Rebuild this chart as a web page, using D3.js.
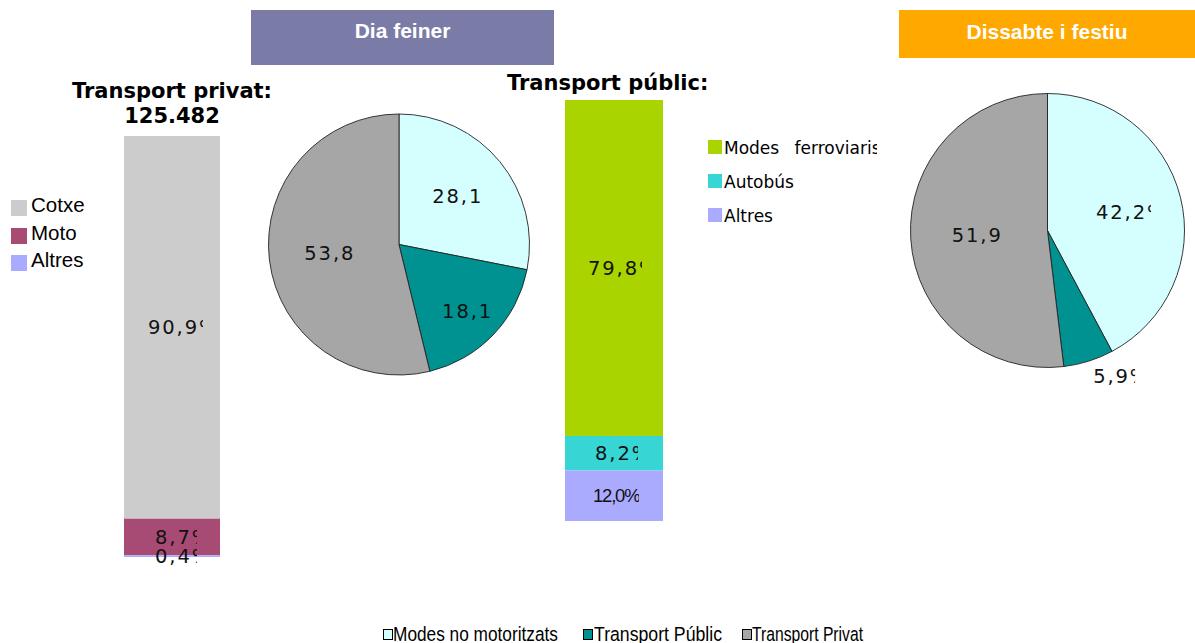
<!DOCTYPE html>
<html><head><meta charset="utf-8">
<script src="https://cdn.jsdelivr.net/npm/d3@7"></script>
<style>body{margin:0;background:#fff;overflow:hidden}svg{display:block}</style>
</head><body>
<script>
// ---------------- data ----------------
const panelTitles = ["Dia feiner", "Dissabte i festiu"];
const privTitle = ["Transport privat:", "125.482"];
const pubTitle = "Transport públic:";

const privCategories = ["Cotxe", "Moto", "Altres"];
const privValues = [90.9, 8.7, 0.4];
const privLabels = ["90,9%", "8,7%", "0,4%"];

const pubCategories = ["Modes ferroviaris", "Autobús", "Altres"];
const pubValues = [79.8, 8.2, 12.0];
const pubLabels = ["79,8%", "8,2%", "12,0%"];

const modeCategories = ["Modes no motoritzats", "Transport Públic", "Transport Privat"];
const weekdayValues = [28.1, 18.1, 53.8];
const weekdayLabels = ["28,1%", "18,1%", "53,8%"];
const weekendValues = [42.2, 5.9, 51.9];
const weekendLabels = ["42,2%", "5,9%", "51,9%"];

// ---------------- styles ----------------
const privColors = ["#cccccc", "#a84b74", "#aaaaff"];
const pubColors = ["#aad400", "#38d5d5", "#aaaaff"];
const modeColors = ["#d5ffff", "#009191", "#a6a6a6"];

const W = 1195, H = 643;
const svg = d3.select("body").append("svg").attr("width", W).attr("height", H);
const defs = svg.append("defs");
let clipId = 0;

const labelFont = "'DejaVu Sans', Verdana, sans-serif";

function clippedText(x, y, text, clipW, opts = {}) {
  const id = "clip" + (clipId++);
  defs.append("clipPath").attr("id", id)
    .append("rect").attr("x", x).attr("y", y - 20).attr("width", clipW).attr("height", 40);
  svg.append("text")
    .attr("x", x).attr("y", y).attr("dy", "0.36em")
    .attr("clip-path", `url(#${id})`)
    .style("font-family", opts.font || labelFont)
    .style("font-size", (opts.size || 19.5) + "px")
    .style("letter-spacing", (opts.spacing !== undefined ? opts.spacing : 1.9) + "px")
    .style("fill", "#111")
    .text(text);
}

// ---------------- panel headers ----------------
const headers = [
  {x: 251, y: 10, w: 303, h: 55, color: "#7b7ba8", ty: 38},
  {x: 899, y: 10, w: 296, h: 48, color: "#ffa800", ty: 39}
];
headers.forEach((h, i) => {
  svg.append("rect").attr("x", h.x).attr("y", h.y).attr("width", h.w).attr("height", h.h).attr("fill", h.color);
  svg.append("text").attr("x", h.x + h.w / 2).attr("y", h.ty)
    .attr("text-anchor", "middle")
    .style("font-family", "'Liberation Sans', Arial, sans-serif")
    .style("font-weight", "bold").style("font-size", "21px").style("fill", "#fff")
    .text(panelTitles[i]);
});

// ---------------- stacked bars ----------------
function stackedBar(values, labels, colors, x0, width, yBottom, yTop, labelCfg) {
  const y = d3.scaleLinear().domain([0, 100]).range([yBottom, yTop]);
  const cum = d3.cumsum(values);
  values.forEach((v, i) => {
    const startTop = i === 0 ? 0 : cum[i - 1];
    const yA = y(100 - startTop);
    const yB = y(100 - cum[i]);
    svg.append("rect").attr("x", x0).attr("y", yA).attr("width", width)
      .attr("height", yB - yA).attr("fill", colors[i]);
  });
  values.forEach((v, i) => {
    const startTop = i === 0 ? 0 : cum[i - 1];
    const yMid = (y(100 - startTop) + y(100 - cum[i])) / 2;
    const cx = x0 + width / 2;
    const c = labelCfg[i];
    clippedText(cx + c.dx, yMid, labels[i], c.w, c.opts || {});
  });
}

stackedBar(privValues, privLabels, privColors, 124, 96, 557, 136, [
  {dx: -24, w: 55}, {dx: -17, w: 42}, {dx: -17, w: 42}
]);
stackedBar(pubValues, pubLabels, pubColors, 565, 98, 521, 100, [
  {dx: -26, w: 54}, {dx: -19, w: 43},
  {dx: -21, w: 46, opts: {font: "'Liberation Sans', Arial, sans-serif", size: 18.5, spacing: -1.2}}
]);

// bar titles
svg.append("text").attr("x", 172).attr("y", 98).attr("text-anchor", "middle")
  .style("font-family", labelFont).style("font-weight", "bold").style("font-size", "21px")
  .text(privTitle[0]);
svg.append("text").attr("x", 172).attr("y", 123).attr("text-anchor", "middle")
  .style("font-family", labelFont).style("font-weight", "bold").style("font-size", "21px")
  .text(privTitle[1]);
svg.append("text").attr("x", 507).attr("y", 90)
  .style("font-family", labelFont).style("font-weight", "bold").style("font-size", "21px")
  .text(pubTitle);

// private legend
privCategories.forEach((c, i) => {
  const by = [212, 240, 267][i];
  svg.append("rect").attr("x", 11).attr("y", by - 12).attr("width", 16).attr("height", 16).attr("fill", privColors[i]);
  svg.append("text").attr("x", 31).attr("y", by)
    .style("font-family", "'Liberation Sans', Arial, sans-serif").style("font-size", "20.5px")
    .text(c);
});

// public legend
{
  const id = "clipPubLeg";
  defs.append("clipPath").attr("id", id).append("rect").attr("x", 700).attr("y", 120).attr("width", 177).attr("height", 120);
  pubCategories.forEach((c, i) => {
    const by = 154 + i * 34;
    svg.append("rect").attr("x", 708).attr("y", by - 14).attr("width", 14).attr("height", 14).attr("fill", pubColors[i]);
    svg.append("text").attr("x", 724).attr("y", by).attr("clip-path", `url(#${id})`)
      .style("font-family", labelFont).style("font-size", "17px")
      .style("word-spacing", i === 0 ? "10px" : "0px")
      .text(c);
  });
}

// ---------------- pies ----------------
function pie(values, labels, cx, cy, R, labelCfg) {
  const arcs = d3.pie().sort(null).value(d => d)(values);
  const arc = d3.arc().innerRadius(0).outerRadius(R);
  const g = svg.append("g").attr("transform", `translate(${cx},${cy})`);
  g.selectAll("path").data(arcs).join("path")
    .attr("d", arc)
    .attr("fill", (d, i) => modeColors[i])
    .attr("stroke", "#222").attr("stroke-width", 0.9);
  arcs.forEach((a, i) => {
    const c = labelCfg[i];
    const la = d3.arc().innerRadius(R * c.k).outerRadius(R * c.k);
    const [px, py] = la.centroid(a);
    clippedText(cx + px + c.dx, cy + py, labels[i], c.w);
  });
}

pie(weekdayValues, weekdayLabels, 399, 244.5, 130.5, [
  {k: 0.587, dx: -26, w: 48}, {k: 0.733, dx: -26, w: 48}, {k: 0.53, dx: -26, w: 50}
]);
pie(weekendValues, weekendLabels, 1047.5, 230.5, 137, [
  {k: 0.56, dx: -26, w: 55}, {k: 1.11, dx: 0, w: 42}, {k: 0.51, dx: -26, w: 50}
]);

// bottom legend
const botLeg = [{sx: 383, tx: 393, len: 165}, {sx: 583, tx: 594, len: 128}, {sx: 742, tx: 752, len: 111}];
modeCategories.forEach((c, i) => {
  svg.append("rect").attr("x", botLeg[i].sx + 0.5).attr("y", 629.5).attr("width", 9).attr("height", 10)
    .attr("fill", modeColors[i]).attr("stroke", "#000").attr("stroke-width", 1);
  svg.append("text").attr("x", botLeg[i].tx).attr("y", 641)
    .attr("textLength", botLeg[i].len).attr("lengthAdjust", "spacingAndGlyphs")
    .style("font-family", "'Liberation Sans', Arial, sans-serif").style("font-size", "20.5px")
    .text(c);
});
</script>
</body></html>
